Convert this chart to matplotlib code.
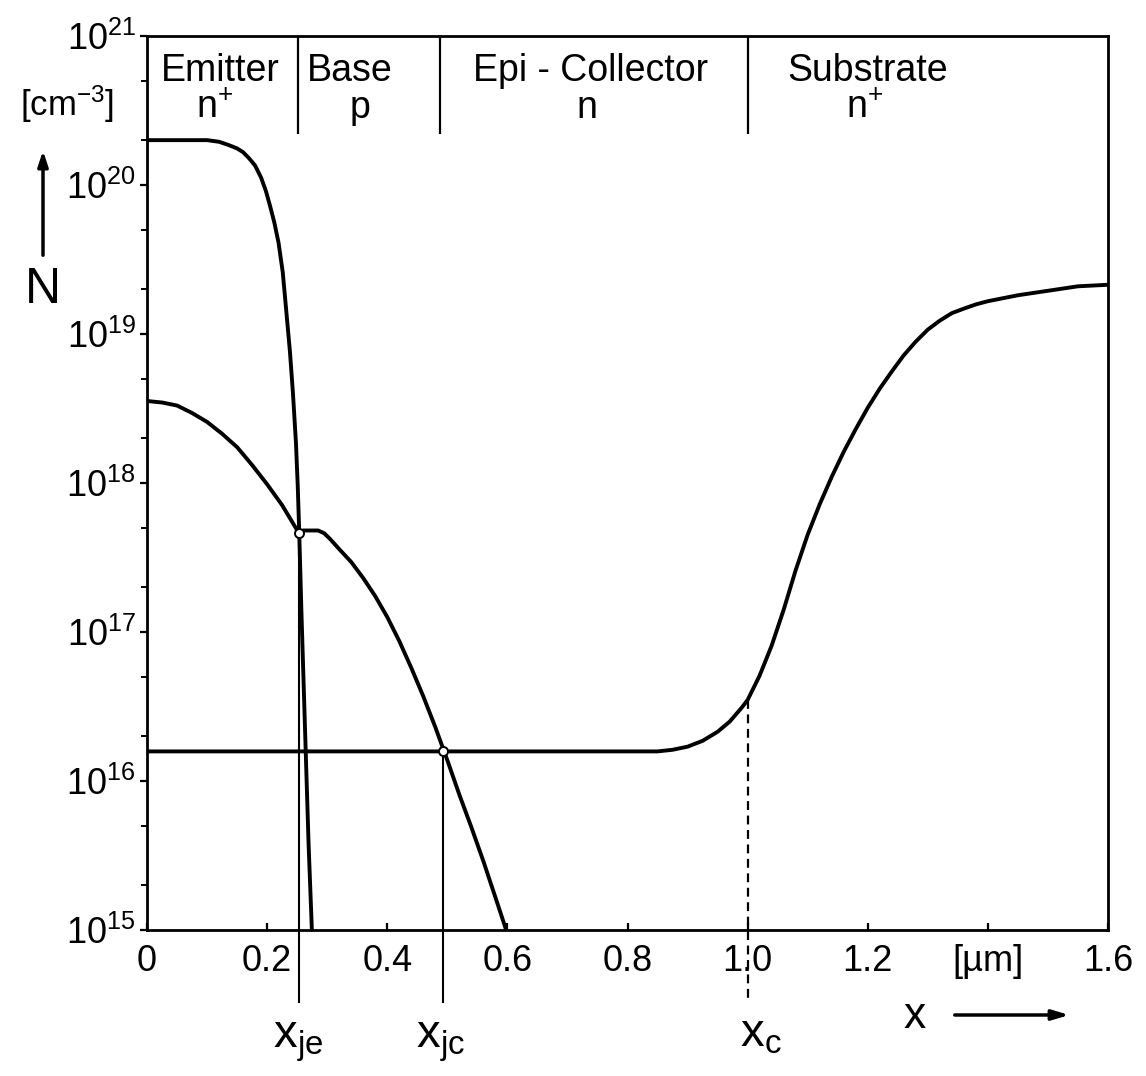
import matplotlib
matplotlib.use("Agg")
import matplotlib.pyplot as plt
from matplotlib.ticker import FixedLocator, LogLocator, NullFormatter

# doping profile of an npn transistor (emitter / base / epi-collector / substrate)
emitter_x = [0, 0.10, 0.12, 0.135, 0.15, 0.16, 0.17, 0.18, 0.19, 0.198, 0.205,
             0.212, 0.219, 0.226, 0.232, 0.238, 0.243, 0.248, 0.251, 0.2535,
             0.257, 0.261, 0.265, 0.269, 0.2745]
emitter_N = [2.0e20, 2.0e20, 1.95e20, 1.86e20, 1.76e20, 1.66e20, 1.51e20, 1.35e20,
             1.12e20, 9.1e19, 7.2e19, 5.6e19, 4.1e19, 2.6e19, 1.41e19, 7.6e18,
             4.0e18, 1.86e18, 9.5e17, 4.6e17, 1.41e17, 4.2e16, 1.26e16, 3.8e15,
             1.0e15]

base_left_x = [0, 0.025, 0.05, 0.075, 0.10, 0.125, 0.15, 0.175, 0.20, 0.225, 0.253]
base_left_N = [3.55e18, 3.47e18, 3.31e18, 2.95e18, 2.57e18, 2.14e18, 1.74e18,
               1.32e18, 9.8e17, 7.1e17, 4.6e17]

base_right_x = [0.253, 0.26, 0.285, 0.295, 0.305, 0.32, 0.34, 0.36, 0.38, 0.40,
                0.42, 0.44, 0.46, 0.48, 0.50, 0.52, 0.54, 0.56, 0.58, 0.598]
base_right_N = [4.6e17, 4.8e17, 4.8e17, 4.6e17, 4.2e17, 3.6e17, 2.95e17, 2.3e17,
                1.74e17, 1.26e17, 8.7e16, 5.75e16, 3.7e16, 2.3e16, 1.38e16, 8.1e15,
                4.9e15, 2.9e15, 1.66e15, 1.0e15]

collector_x = [0, 0.85, 0.875, 0.90, 0.925, 0.95, 0.97, 0.99, 1.00, 1.02, 1.04,
               1.06, 1.08, 1.10, 1.12, 1.14, 1.16, 1.18, 1.20, 1.22, 1.24, 1.26,
               1.28, 1.30, 1.32, 1.34, 1.36, 1.38, 1.40, 1.45, 1.50, 1.55, 1.60]
collector_N = [1.58e16, 1.58e16, 1.62e16, 1.70e16, 1.86e16, 2.14e16, 2.5e16, 3.1e16,
               3.5e16, 5.1e16, 8.1e16, 1.41e17, 2.6e17, 4.5e17, 7.2e17, 1.10e18,
               1.62e18, 2.3e18, 3.2e18, 4.3e18, 5.6e18, 7.2e18, 8.9e18, 1.07e19,
               1.23e19, 1.38e19, 1.48e19, 1.58e19, 1.66e19, 1.82e19, 1.95e19,
               2.09e19, 2.14e19]

# junction positions
x_je, N_je = 0.253, 4.6e17
x_jc, N_jc = 0.493, 1.58e16
x_c, N_c = 1.0, 3.5e16

region_edges = [0.251, 0.487, 1.0]
region_names = ["Emitter", "Base", "Epi - Collector", "Substrate"]
region_name_x = [0.122, 0.337, 0.738, 1.200]
region_types = [r"n$^{+}$", "p", "n", r"n$^{+}$"]
region_type_x = [0.112, 0.355, 0.733, 1.195]

x_ticks = [0, 0.2, 0.4, 0.6, 0.8, 1.0, 1.2, 1.4, 1.6]
x_tick_labels = ["0", "0.2", "0.4", "0.6", "0.8", "1.0", "1.2", "[µm]", "1.6"]
y_ticks = [1e15, 1e16, 1e17, 1e18, 1e19, 1e20, 1e21]
y_tick_labels = [r"$10^{%d}$" % e for e in range(15, 22)]

plt.rcParams["font.family"] = ["Liberation Sans", "DejaVu Sans"]
plt.rcParams["mathtext.default"] = "regular"

W, H = 1146, 1076
fig = plt.figure(figsize=(W / 100, H / 100), dpi=100)
ax = fig.add_axes([147 / W, 1 - 930 / H, (1108 - 147) / W, (930 - 36) / H])

ax.set_yscale("log")
ax.set_xlim(0, 1.6)
ax.set_ylim(1e15, 1e21)
for sp in ax.spines.values():
    sp.set_linewidth(2.0)

ax.xaxis.set_major_locator(FixedLocator(x_ticks))
ax.set_xticklabels(x_tick_labels)
ax.tick_params(axis="x", direction="in", length=5, width=1.6, pad=10, labelsize=26)

ax.yaxis.set_major_locator(FixedLocator(y_ticks))
ax.set_yticklabels(y_tick_labels)
ax.yaxis.set_minor_locator(LogLocator(base=10, subs=(2, 5)))
ax.yaxis.set_minor_formatter(NullFormatter())
ax.tick_params(axis="y", which="major", direction="out", length=5, width=1.6,
               pad=3, labelsize=26)
ax.tick_params(axis="y", which="minor", direction="out", length=4, width=1.4)

curve = dict(color="black", lw=2.8, solid_capstyle="round",
             solid_joinstyle="round", zorder=3)
ax.plot(emitter_x, emitter_N, **curve)
ax.plot(base_left_x, base_left_N, **curve)
ax.plot(base_right_x, base_right_N, **curve)
ax.plot(collector_x, collector_N, **curve)

# region boundaries along the top
ax.vlines(region_edges, 2.2e20, 1e21, color="black", lw=1.6)
for name, xn, typ, xt in zip(region_names, region_name_x, region_types, region_type_x):
    ax.text(xn, 5.0e20, name, ha="center", va="baseline", fontsize=27)
    ax.text(xt, 2.8e20, typ, ha="center", va="baseline", fontsize=27)

# junction markers running below the x axis
line_bottom = 3.3e14
ax.plot([x_je, x_je], [N_je, line_bottom], color="black", lw=1.5, clip_on=False, zorder=2)
ax.plot([x_jc, x_jc], [N_jc, line_bottom], color="black", lw=1.5, clip_on=False, zorder=2)
ax.plot([x_c, x_c], [N_c, line_bottom], color="black", lw=1.6, ls=(0, (4, 2.5)),
        clip_on=False, zorder=2)
ax.plot([x_je, x_jc], [N_je, N_jc], ls="none", marker="o", ms=6.5, mfc="white",
        mec="black", mew=1.4, zorder=4)

def fig_text(px, py, s, **kw):
    fig.text(px / W, 1 - py / H, s, **kw)

fig_text(67, 104, r"[cm$^{-3}$]", ha="center", va="center", fontsize=25)
fig_text(43, 290, "N", ha="center", va="center", fontsize=36)
ax.annotate("", xy=(43 / W, 1 - 148 / H), xytext=(43 / W, 1 - 258 / H),
            xycoords="figure fraction",
            arrowprops=dict(arrowstyle="-|>,head_length=0.9,head_width=0.3",
                            color="black", lw=2.5))

fig_text(273, 1047, r"x$_{je}$", ha="left", va="baseline", fontsize=34)
fig_text(416, 1047, r"x$_{jc}$", ha="left", va="baseline", fontsize=34)
fig_text(740, 1047, r"x$_{c}$", ha="left", va="baseline", fontsize=34)
fig_text(903, 1028, "x", ha="left", va="baseline", fontsize=32)
ax.annotate("", xy=(1072 / W, 1 - 1015 / H), xytext=(952 / W, 1 - 1015 / H),
            xycoords="figure fraction",
            arrowprops=dict(arrowstyle="-|>,head_length=1.0,head_width=0.3",
                            color="black", lw=2.5))

fig.savefig("out.png", dpi=100, facecolor="white")
